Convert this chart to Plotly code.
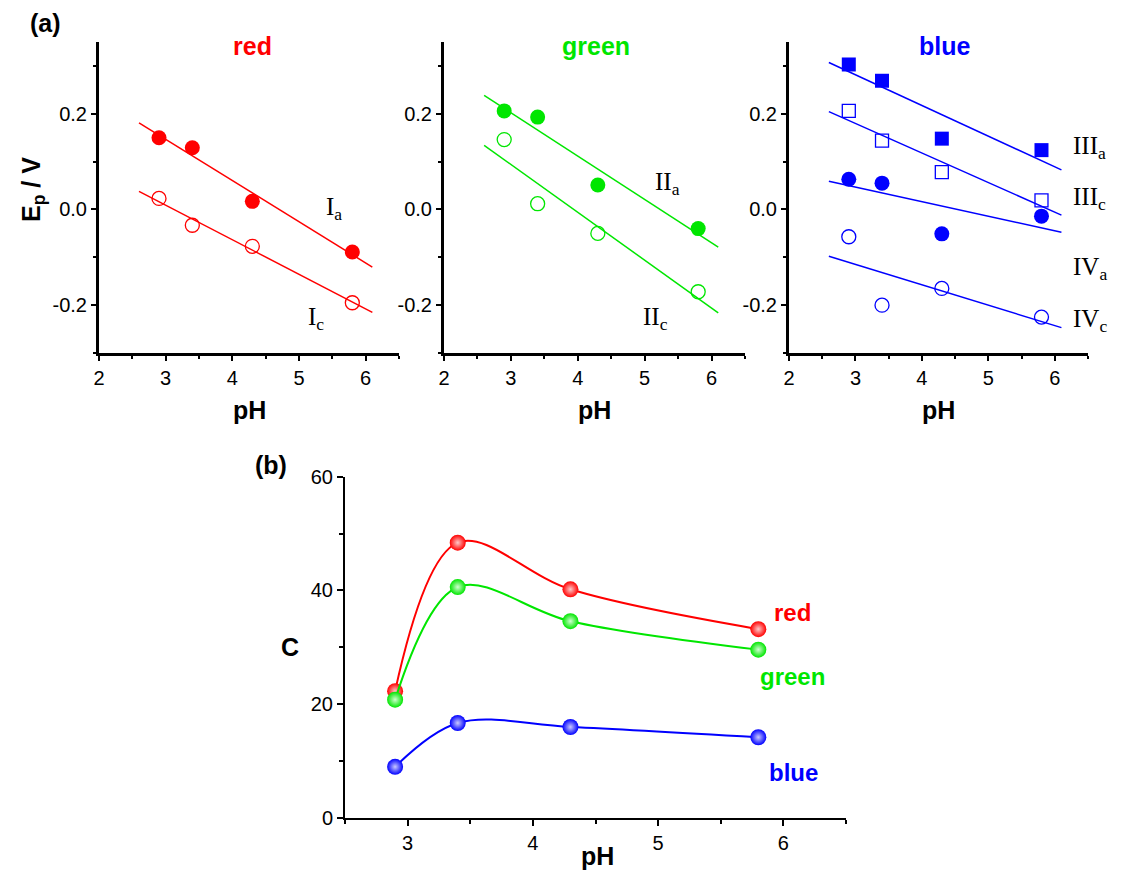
import numpy as np
import plotly.graph_objects as go

W, H = 1129, 872

# ---------------- data ----------------
PH = [2.9, 3.4, 4.3, 5.8]
FIT_X = [2.6, 6.1]

red_Ia = [0.150, 0.129, 0.017, -0.089]
red_Ic = [0.023, -0.033, -0.077, -0.195]
green_IIa = [0.206, 0.193, 0.051, -0.040]
green_IIc = [0.146, 0.012, -0.050, -0.172]
blue_IIIa = [0.303, 0.269, 0.148, 0.124]
blue_IIIc = [0.206, 0.144, 0.078, 0.019]
blue_IVa = [0.063, 0.055, -0.051, -0.014]
blue_IVc = [-0.057, -0.200, -0.165, -0.225]

C_red = [22.3, 48.4, 40.2, 33.2]
C_green = [20.8, 40.6, 34.6, 29.6]
C_blue = [9.0, 16.7, 16.0, 14.2]

Y_TICKS_A = [-0.2, 0.0, 0.2]
Y_TICKTEXT_A = ["-0.2", "0.0", "0.2"]
X_TICKS_A = [2, 3, 4, 5, 6]
X_TICKS_B = [3, 4, 5, 6]
Y_TICKS_B = [0, 20, 40, 60]

RED = "#FF0000"
GREEN = "#00E600"
BLUE = "#0000FF"

SANS = "Liberation Sans"
SERIF = "Liberation Serif"


def fx(px):
    return px / W


def fy(py):
    return 1 - py / H


fig = go.Figure()


def fit_line(y):
    k, b = np.polyfit(PH, y, 1)
    return [k * x + b for x in FIT_X]


def add_series(y, color, symbol, ax, filled=True):
    xa = "x" if ax == 1 else f"x{ax}"
    ya = "y" if ax == 1 else f"y{ax}"
    fig.add_trace(go.Scatter(x=FIT_X, y=fit_line(y), mode="lines",
                             line=dict(color=color, width=1.5),
                             xaxis=xa, yaxis=ya, showlegend=False))
    if filled:
        m = dict(symbol=symbol, size=15 if symbol == "circle" else 14, color=color,
                 line=dict(width=0))
    else:
        m = dict(symbol=symbol + "-open", size=14 if symbol == "circle" else 13,
                 color=color, line=dict(width=1.3, color=color))
    fig.add_trace(go.Scatter(x=PH, y=y, mode="markers", marker=m,
                             xaxis=xa, yaxis=ya, showlegend=False))


add_series(red_Ia, RED, "circle", 1, True)
add_series(red_Ic, RED, "circle", 1, False)
add_series(green_IIa, GREEN, "circle", 2, True)
add_series(green_IIc, GREEN, "circle", 2, False)
add_series(blue_IIIa, BLUE, "square", 3, True)
add_series(blue_IIIc, BLUE, "square", 3, False)
add_series(blue_IVa, BLUE, "circle", 3, True)
add_series(blue_IVc, BLUE, "circle", 3, False)

# panel (b): spline curves with shaded "sphere" markers
for vals, col, tint in [(C_red, RED, "#FFC8C8"), (C_green, GREEN, "#D0FFD0"),
                        (C_blue, BLUE, "#C8C8FF")]:
    fig.add_trace(go.Scatter(x=PH, y=vals, mode="lines+markers",
                             line=dict(color=col, width=2, shape="spline", smoothing=1.0),
                             marker=dict(size=16, color=col, line=dict(width=0),
                                         gradient=dict(type="radial", color=tint)),
                             xaxis="x4", yaxis="y4", showlegend=False))

# ---------------- axes ----------------
axis_common = dict(showgrid=False, zeroline=False, showline=True, linecolor="black",
                   ticks="outside", tickcolor="black", mirror=False, automargin=False,
                   tickfont=dict(family=SANS, size=20, color="black"))

x_doms = [(99, 399), (444, 745), (789, 1088)]
y_dom_a = [fy(353), fy(42)]
for i, (a, b) in enumerate(x_doms, start=1):
    xk = "xaxis" if i == 1 else f"xaxis{i}"
    yk = "yaxis" if i == 1 else f"yaxis{i}"
    yname = "y" if i == 1 else f"y{i}"
    xname = "x" if i == 1 else f"x{i}"
    fig.layout[xk] = dict(axis_common, domain=[fx(a), fx(b)], range=[2, 6.5],
                          tickvals=X_TICKS_A, ticklen=5, tickwidth=2, linewidth=3,
                          anchor=yname,
                          minor=dict(dtick=0.5, tick0=2, ticks="outside", ticklen=3,
                                     tickwidth=2, tickcolor="black"))
    fig.layout[yk] = dict(axis_common, domain=y_dom_a, range=[-0.3, 0.35],
                          tickvals=Y_TICKS_A, ticktext=Y_TICKTEXT_A, ticklen=5,
                          tickwidth=2, linewidth=3, anchor=xname,
                          minor=dict(dtick=0.1, tick0=0, ticks="outside", ticklen=3,
                                     tickwidth=2, tickcolor="black"))

fig.layout["xaxis4"] = dict(axis_common, domain=[fx(345), fx(846)], range=[2.5, 6.5],
                            tickvals=X_TICKS_B, ticklen=6, tickwidth=2, linewidth=2,
                            anchor="y4",
                            minor=dict(dtick=0.5, tick0=2.5, ticks="outside", ticklen=4,
                                       tickwidth=2, tickcolor="black"))
fig.layout["yaxis4"] = dict(axis_common, domain=[fy(818), fy(476.7)], range=[0, 60],
                            tickvals=Y_TICKS_B, ticklen=6, tickwidth=2, linewidth=2,
                            anchor="x4",
                            minor=dict(dtick=10, tick0=0, ticks="outside", ticklen=4,
                                       tickwidth=2, tickcolor="black"))

# ---------------- annotations ----------------
ann = []


def text(px, py, s, size, color="black", family=SANS, bold=True, angle=0,
         xanchor="center", yanchor="middle"):
    ann.append(dict(x=fx(px), y=fy(py), xref="paper", yref="paper", text=s,
                    showarrow=False, textangle=angle, xanchor=xanchor, yanchor=yanchor,
                    font=dict(family=family, size=size, color=color,
                              weight="bold" if bold else "normal")))


text(45, 23, "(a)", 25)
text(271, 465, "(b)", 25)
text(252, 46, "red", 25, RED)
text(596, 46, "green", 25, GREEN)
text(944, 46, "blue", 25, BLUE)
for cx in [249, 594.5, 938.5]:
    text(cx, 410, "pH", 25)
text(597, 856, "pH", 25)
text(33, 190, "E<sub>p</sub> / V", 25, angle=-90)
text(290, 647, "C", 25)
text(792, 612, "red", 24, RED)
text(792, 676, "green", 24, GREEN)
text(793, 772, "blue", 24, BLUE)

roman = [(324, 208, "I<sub>a</sub>"), (306, 318, "I<sub>c</sub>"),
         (653, 183, "II<sub>a</sub>"), (641, 318, "II<sub>c</sub>"),
         (1071, 148, "III<sub>a</sub>"), (1071, 198, "III<sub>c</sub>"),
         (1071, 268, "IV<sub>a</sub>"), (1071, 320, "IV<sub>c</sub>")]
for px, py, s in roman:
    text(px, py, s, 25, family=SERIF, bold=False, xanchor="left")

fig.update_layout(width=W, height=H,
                  margin=dict(l=0, r=0, t=0, b=0, pad=0, autoexpand=False),
                  paper_bgcolor="white", plot_bgcolor="white", annotations=ann)

POST = (
    "var gd=document.getElementById('{plot_id}');"
    "gd.style.position='fixed';gd.style.top='0px';gd.style.left='0px';"
    "document.documentElement.style.margin='0';"
    "document.documentElement.style.padding='0';"
    "document.documentElement.style.overflow='hidden';"
    "document.body.style.margin='0';document.body.style.padding='0';"
    "document.body.style.overflow='hidden';"
    "document.body.style.height='" + str(H) + "px';"
)

fig.write_html("out.html", config={"displayModeBar": False}, post_script=POST)
